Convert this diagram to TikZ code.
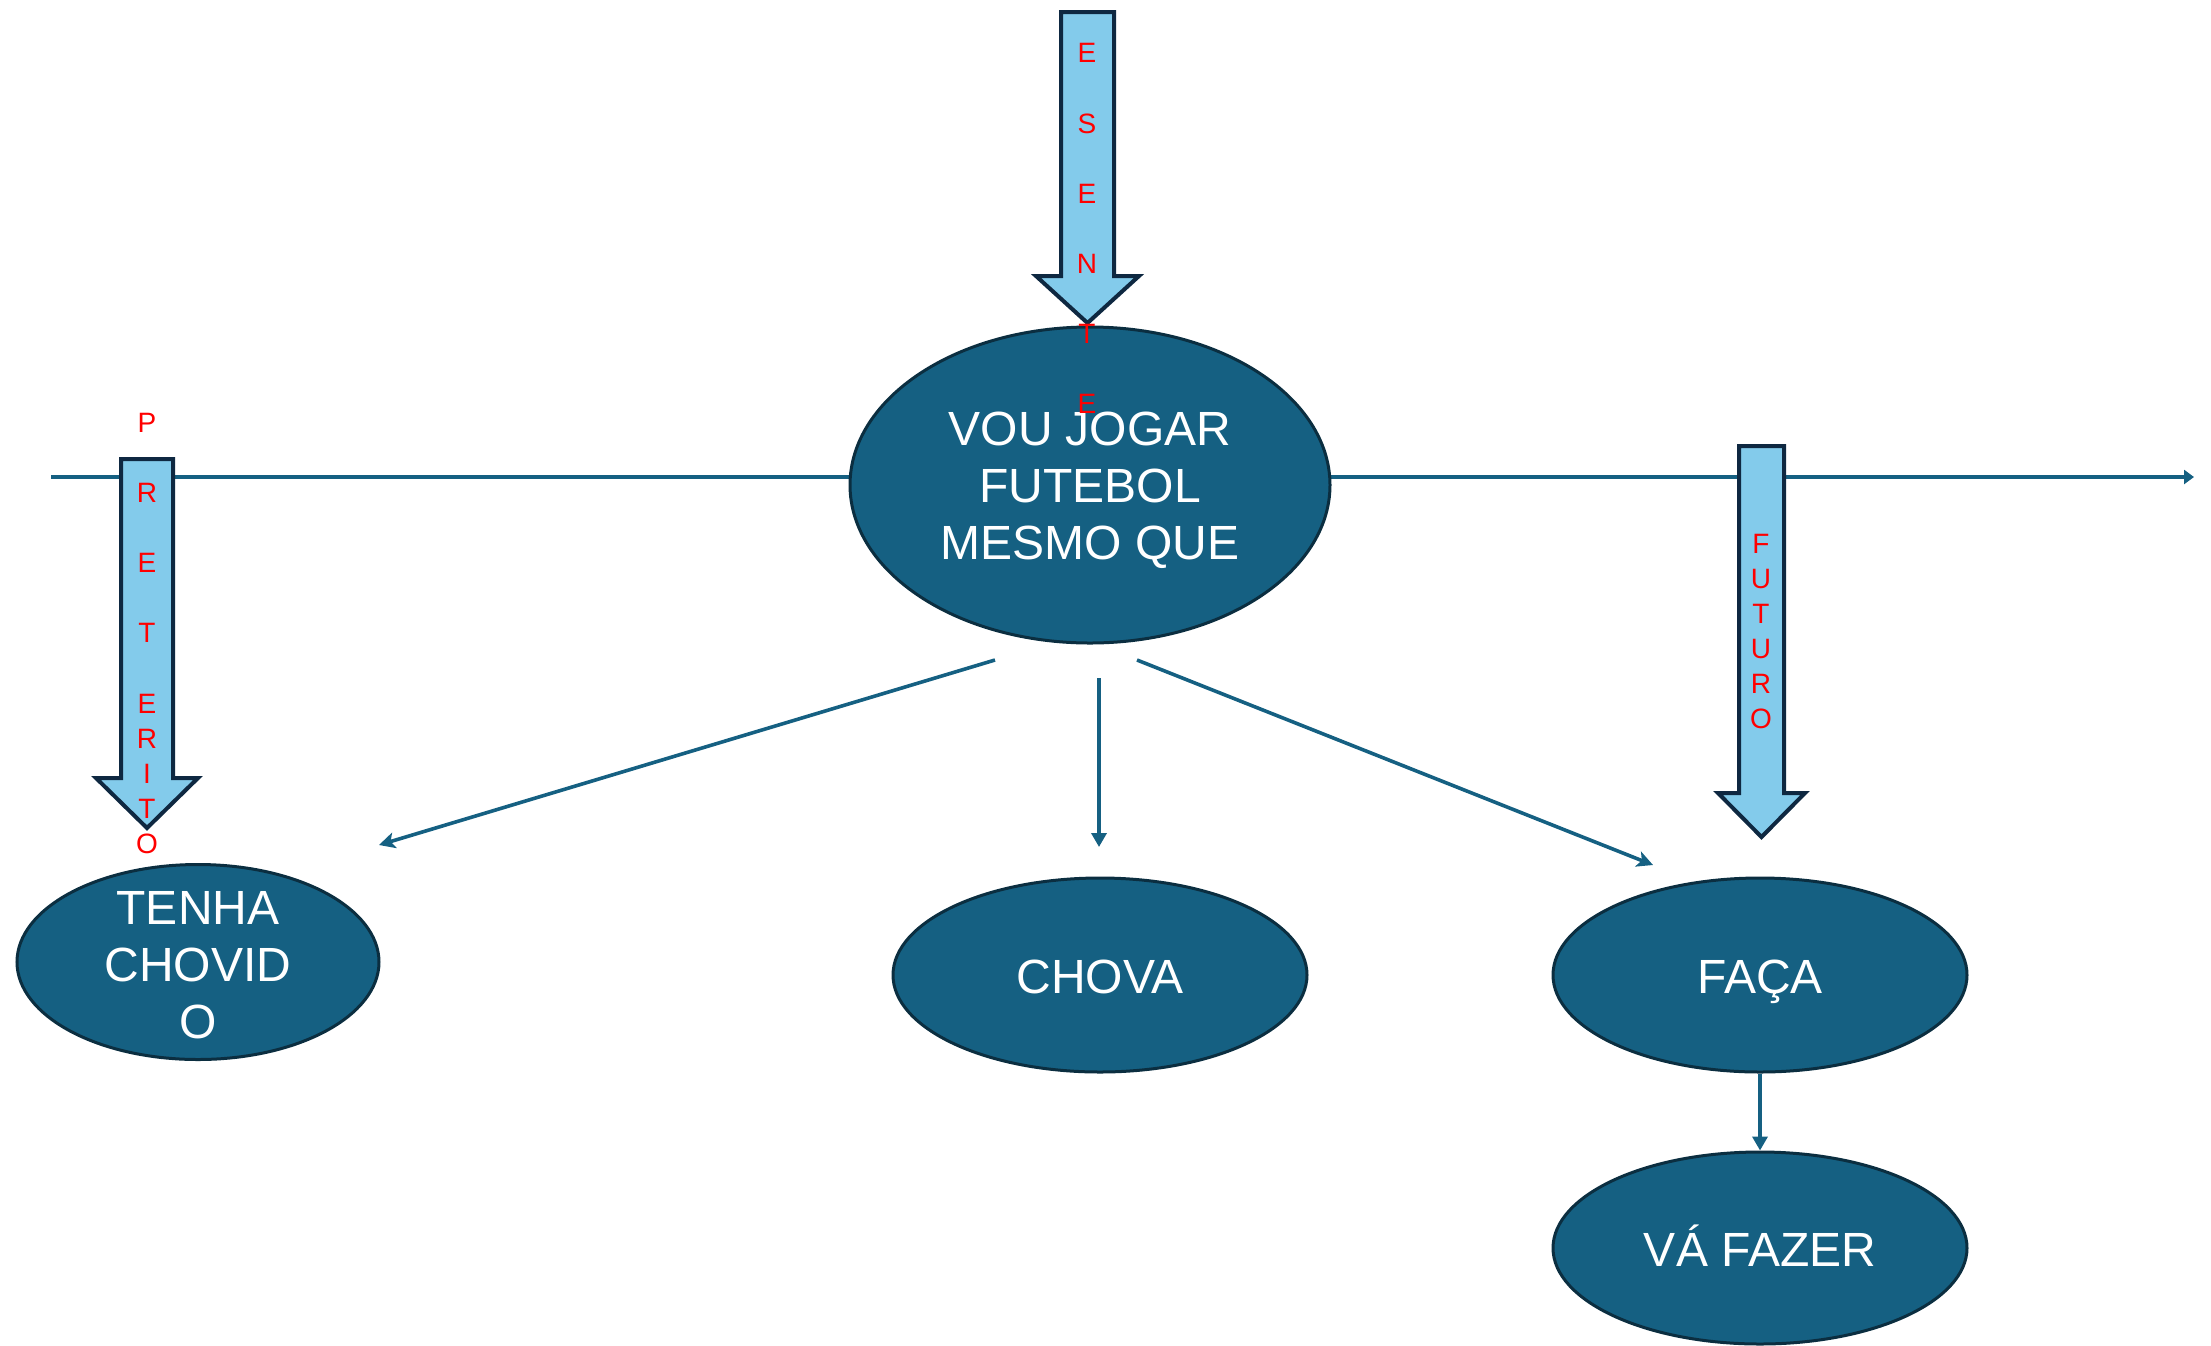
\documentclass[tikz,border=0pt]{standalone}
\usepackage{fontspec}
\setmainfont{Liberation Sans}
\usetikzlibrary{arrows.meta,shapes.geometric}

\definecolor{bubblefill}{HTML}{156082}
\definecolor{bubbleline}{HTML}{0B2E40}
\definecolor{linkblue}{HTML}{156082}
\definecolor{arrowfill}{HTML}{83CBEB}
\definecolor{arrowline}{HTML}{0E2841}
\definecolor{tensered}{HTML}{FF0000}

\begin{document}
\begin{tikzpicture}[x=0.5pt,y=-0.5pt,
  bubble/.style={draw=bubbleline, line width=1.5pt, fill=bubblefill,
    ellipse, inner sep=0pt},
  bubbletext/.style={text=white, align=center, inner sep=0pt,
    font=\fontsize{24}{28.5}\selectfont},
  link/.style={draw=linkblue, line width=1.8pt,
    -{Triangle[length=7pt,width=7.5pt]}},
  slantlink/.style={draw=linkblue, line width=1.8pt,
    -{Stealth[length=8pt,width=8pt,inset=2pt]}},
  timeline/.style={draw=linkblue, line width=1.8pt,
    -{Triangle[length=5pt,width=7pt]}},
  blockarrow/.style={draw=arrowline, line width=2pt, fill=arrowfill,
    line join=miter},
  tense/.style={text=tensered, inner sep=0pt, anchor=base,
    font=\fontsize{14}{17.5}\selectfont}
]
\useasboundingbox (0,0) rectangle (2211,1345);

% time axis, behind everything
\coordinate (axisL) at (51,477);
\coordinate (axisR) at (2194,477);
\draw[timeline] (axisL) -- (axisR);

% main clause
\node[bubble, minimum width=240pt, minimum height=158pt] (main) at (1090,485) {};
\node[bubbletext, yshift=-2.5pt] (mainT) at (main.center)
  {VOU JOGAR\\FUTEBOL\\MESMO QUE};

% subordinate clauses (single lines sit on a baseline half a cap height below centre)
\node[bubble, minimum width=181pt, minimum height=97.5pt] (past) at (198,962) {};
\node[bubbletext, yshift=-1.5pt] (pastT) at (past.center) {TENHA\\CHOVID\\O};

\node[bubble, minimum width=207pt, minimum height=97pt] (pres) at (1100,975) {};
\node[bubbletext, anchor=base] (presT) at (1100,993) {CHOVA};

\node[bubble, minimum width=207pt, minimum height=97pt] (fut) at (1760,975) {};
\node[bubbletext, anchor=base] (futT) at (1760,993) {FAÇA};

\node[bubble, minimum width=207pt, minimum height=96pt] (fut2) at (1760,1248) {};
\node[bubbletext, anchor=base] (fut2T) at (1760,1266) {VÁ FAZER};

% connectors from the main clause
\coordinate (fromL) at (995,660);
\coordinate (toL) at (379,845);
\coordinate (fromM) at (1099,678);
\coordinate (toM) at (1099,847);
\coordinate (fromR) at (1137,660);
\coordinate (toR) at (1653,865);
\draw[slantlink] (fromL) -- (toL);
\draw[link] (fromM) -- (toM);
\draw[slantlink] (fromR) -- (toR);
\draw[link] (fut.south) -- (fut2.north);

% block arrows of the three tenses
\draw[blockarrow] (1061,12) -- (1114,12) -- (1114,276) -- (1139,276)
  -- (1087.5,323) -- (1036,276) -- (1061,276) -- cycle;
\draw[blockarrow] (121,459) -- (173,459) -- (173,778) -- (198,778)
  -- (147,828) -- (96,778) -- (121,778) -- cycle;
\draw[blockarrow] (1739,446) -- (1784,446) -- (1784,793) -- (1805,793)
  -- (1761.5,837) -- (1718,793) -- (1739,793) -- cycle;

% vertical lettering
\foreach \ch/\yy [count=\i] in {E/62,S/133,E/203,N/273,T/343,E/413}
  \node[tense] (presL\i) at (1087,\yy) {\ch};
\foreach \ch/\yy [count=\i] in {P/432,R/502,E/572,T/642,E/713,R/748,I/783,T/818,O/853}
  \node[tense] (pastL\i) at (147,\yy) {\ch};
\foreach \ch/\yy [count=\i] in {F/553,U/588,T/623,U/658,R/693,O/728}
  \node[tense] (futL\i) at (1761,\yy) {\ch};
\end{tikzpicture}
\end{document}
